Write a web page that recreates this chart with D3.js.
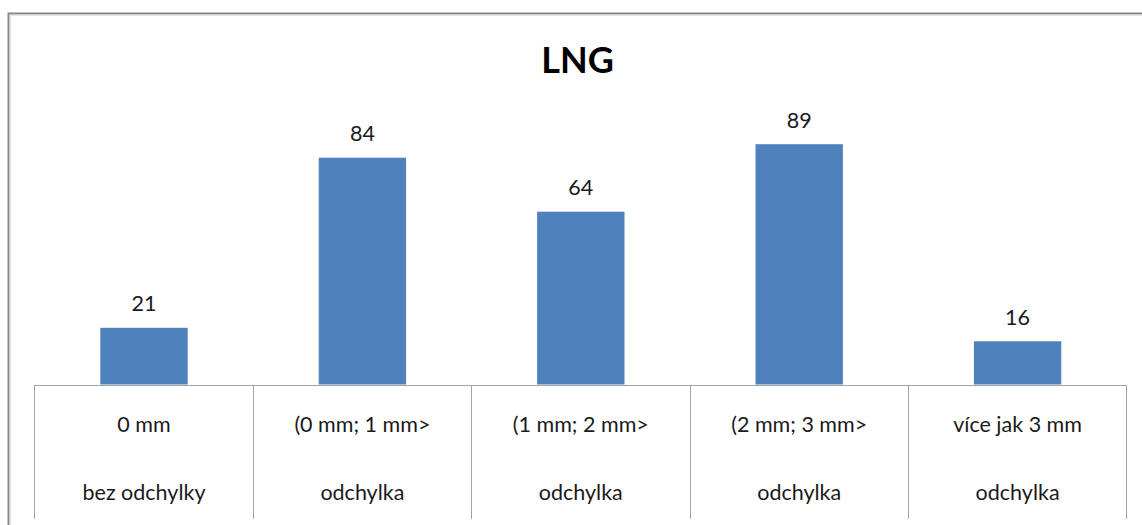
<!DOCTYPE html>
<html>
<head>
<meta charset="utf-8">
<script src="https://cdn.jsdelivr.net/npm/d3@7/dist/d3.min.js"></script>
<style>
  html, body { margin: 0; padding: 0; background: #fff; overflow: hidden; }
  svg { display: block; }
  text { font-family: Lato, "Open Sans", "DejaVu Sans", sans-serif; }
</style>
</head>
<body>
<svg id="chart" width="1142" height="525"></svg>
<script>
// Deviation classes (two-line category labels) and counts per class
const categoryTop = ["0 mm", "(0 mm; 1 mm>", "(1 mm; 2 mm>", "(2 mm; 3 mm>", "více jak 3 mm"];
const categoryBottom = ["bez odchylky", "odchylka", "odchylka", "odchylka", "odchylka"];
const counts = [21, 84, 64, 89, 16];
const title = "LNG";

const svg = d3.select("#chart");
const W = 1142, H = 525;

// Frame of the chart area (right and bottom edges run past the page)
const frame = svg.append("g");
frame.append("path")
  .attr("d", `M8.5,${H} V13.5 H${W}`)
  .attr("fill", "none").attr("stroke", "#878787").attr("stroke-width", 2);
frame.append("path")
  .attr("d", `M10,${H} V15 H${W}`)
  .attr("fill", "none").attr("stroke", "#cfcfcf").attr("stroke-width", 1);

// Title
svg.append("text")
  .attr("x", 577.5).attr("y", 73)
  .attr("text-anchor", "middle")
  .attr("font-size", 36).attr("font-weight", "bold")
  .attr("fill", "#000")
  .text(title);

// Scales
const x = d3.scaleBand().domain(d3.range(counts.length)).range([34.8, 1126.8]).padding(0);
const y = d3.scaleLinear().domain([0, 100]).range([384.5, 114.5]);
const barW = x.bandwidth() * 0.4;

// Bars
svg.append("g").selectAll("rect")
  .data(counts)
  .join("rect")
  .attr("x", (d, i) => x(i) + (x.bandwidth() - barW) / 2)
  .attr("y", d => y(d))
  .attr("width", barW)
  .attr("height", d => y(0) - y(d))
  .attr("fill", "#4F81BD");

// Value labels
svg.append("g").selectAll("text")
  .data(counts)
  .join("text")
  .attr("x", (d, i) => x(i) + x.bandwidth() / 2)
  .attr("y", d => y(d) - 16.5)
  .attr("text-anchor", "middle")
  .attr("font-size", 21.5)
  .attr("fill", "#1a1a1a")
  .text(d => d);

// Category axis drawn as a table of cells
const tableBottom = 519;
const axis = svg.append("g")
  .attr("stroke", "#a3a3a3").attr("stroke-width", 1).attr("shape-rendering", "crispEdges");
axis.append("line")
  .attr("x1", x.range()[0]).attr("x2", x.range()[1])
  .attr("y1", Math.round(y(0))).attr("y2", Math.round(y(0)));
const edges = d3.range(counts.length).map(i => x(i)).concat([x.range()[1]]);
axis.selectAll("line.div")
  .data(edges)
  .join("line")
  .attr("class", "div")
  .attr("x1", d => Math.floor(d) + 0.5).attr("x2", d => Math.floor(d) + 0.5)
  .attr("y1", Math.round(y(0))).attr("y2", tableBottom);

const labels = svg.append("g")
  .attr("text-anchor", "middle")
  .attr("font-size", 21.5)
  .attr("fill", "#1a1a1a");
labels.selectAll("text.top")
  .data(categoryTop)
  .join("text")
  .attr("class", "top")
  .attr("x", (d, i) => x(i) + x.bandwidth() / 2)
  .attr("y", 431.5)
  .text(d => d);
labels.selectAll("text.bottom")
  .data(categoryBottom)
  .join("text")
  .attr("class", "bottom")
  .attr("x", (d, i) => x(i) + x.bandwidth() / 2)
  .attr("y", 499.5)
  .text(d => d);
</script>
</body>
</html>
